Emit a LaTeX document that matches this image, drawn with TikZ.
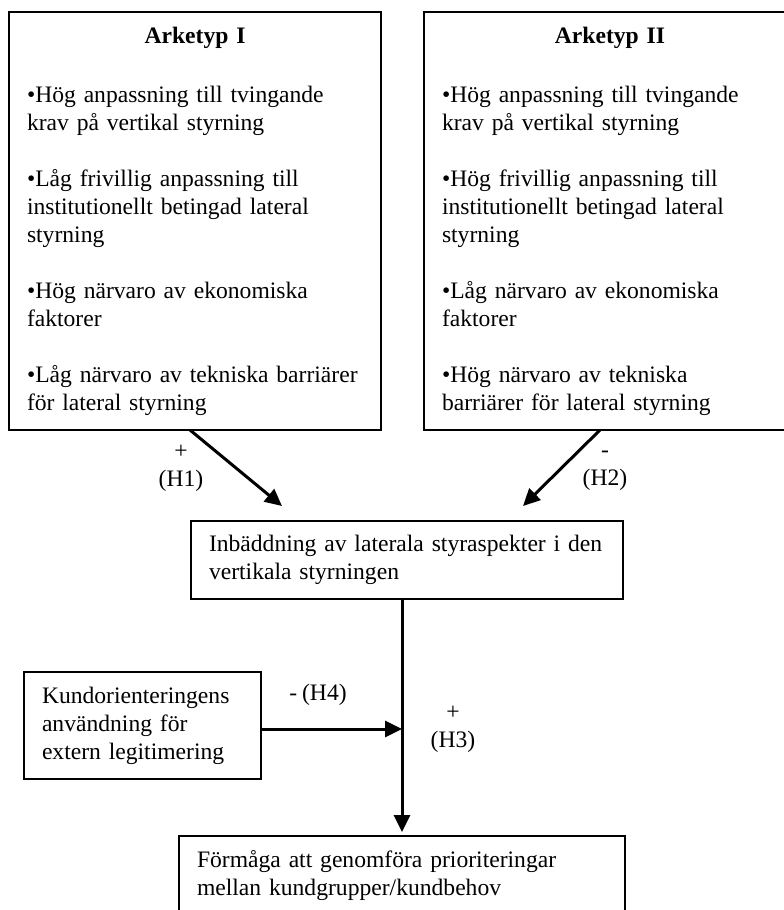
\documentclass[tikz,border=0pt]{standalone}
\usepackage{fontspec}
\setmainfont{Liberation Serif}
\usetikzlibrary{arrows.meta, positioning}
\newcommand{\boxtitle}[1]{\makebox[168pt]{\textbf{#1}}}
\newcommand{\figfont}{\fontsize{11.8}{14}\selectfont\spaceskip=2.5pt plus 1pt minus 0.5pt\hyphenpenalty=10000\relax}
\tikzset{%
>={Triangle[width=8pt,length=8.5pt]},
% Specifications for style of nodes:
base/.style = {draw, line width=0.8pt, inner xsep=9pt, inner ysep=0pt, outer sep=0pt, align=left, font=\figfont},
archetype/.style = {base, text width=168pt, minimum height=209pt},
process/.style = {base, text width=198pt, minimum height=39pt},
outcome/.style = {base, text width=205pt, minimum height=39pt},
moderator/.style = {base, text width=100.5pt, minimum height=53.5pt},
effect/.style = {font=\figfont, align=center, inner sep=0pt},
link/.style = {->, line width=1.5pt},
}

\begin{document}
\begin{tikzpicture}[x=0.5pt, y=-0.5pt]
    \useasboundingbox (0,0) rectangle (783,910);
    % Specification of nodes (position, etc.)
    \node (arketypI) [archetype] at (195,221) {\boxtitle{Arketyp I}\\[15.5pt]
        •Hög anpassning till tvingande\\krav på vertikal styrning\\[14pt]
        •Låg frivillig anpassning till\\institutionellt betingad lateral\\styrning\\[14pt]
        •Hög närvaro av ekonomiska\\faktorer\\[14pt]
        •Låg närvaro av tekniska barriärer\\för lateral styrning};
    \node (arketypII) [archetype] at (610,221) {\boxtitle{Arketyp II}\\[15.5pt]
        •Hög anpassning till tvingande\\krav på vertikal styrning\\[14pt]
        •Hög frivillig anpassning till\\institutionellt betingad lateral\\styrning\\[14pt]
        •Låg närvaro av ekonomiska\\faktorer\\[14pt]
        •Hög närvaro av tekniska\\barriärer för lateral styrning};
    \node (inbaddning) [process] at (407,560) {Inbäddning av laterala styraspekter i den\\vertikala styrningen};
    \node (kundorientering) [moderator] at (142.5,725.5) {Kundorienteringens\\användning för\\extern legitimering};
    \node (formaga) [outcome] at (402,875) {Förmåga att genomföra prioriteringar\\mellan kundgrupper/kundbehov};
    \coordinate (korsning) at (kundorientering.east -| formaga.north);

    \draw [link] ([xshift=-2.5pt]arketypI.south) -- ([xshift=-62.5pt, yshift=7.5pt]inbaddning.north) node[effect, midway, xshift=-27.5pt] {+\\(H1)};
    \draw [link] ([xshift=-5pt]arketypII.south) -- ([xshift=58pt, yshift=7.5pt]inbaddning.north) node[effect, midway, xshift=21.75pt, yshift=-1.5pt] {-\\(H2)};
    \draw [link] ([xshift=-2.5pt]inbaddning.south) -- ([yshift=2pt]formaga.north) node[effect, midway, xshift=25.5pt, yshift=-6.75pt] {+\\(H3)};
    \draw [link] ([yshift=-1.75pt]kundorientering.east) -- ([yshift=-1.75pt]korsning) node[effect, midway, xshift=-6.75pt, yshift=17pt] {- (H4)};
\end{tikzpicture}
\end{document}
